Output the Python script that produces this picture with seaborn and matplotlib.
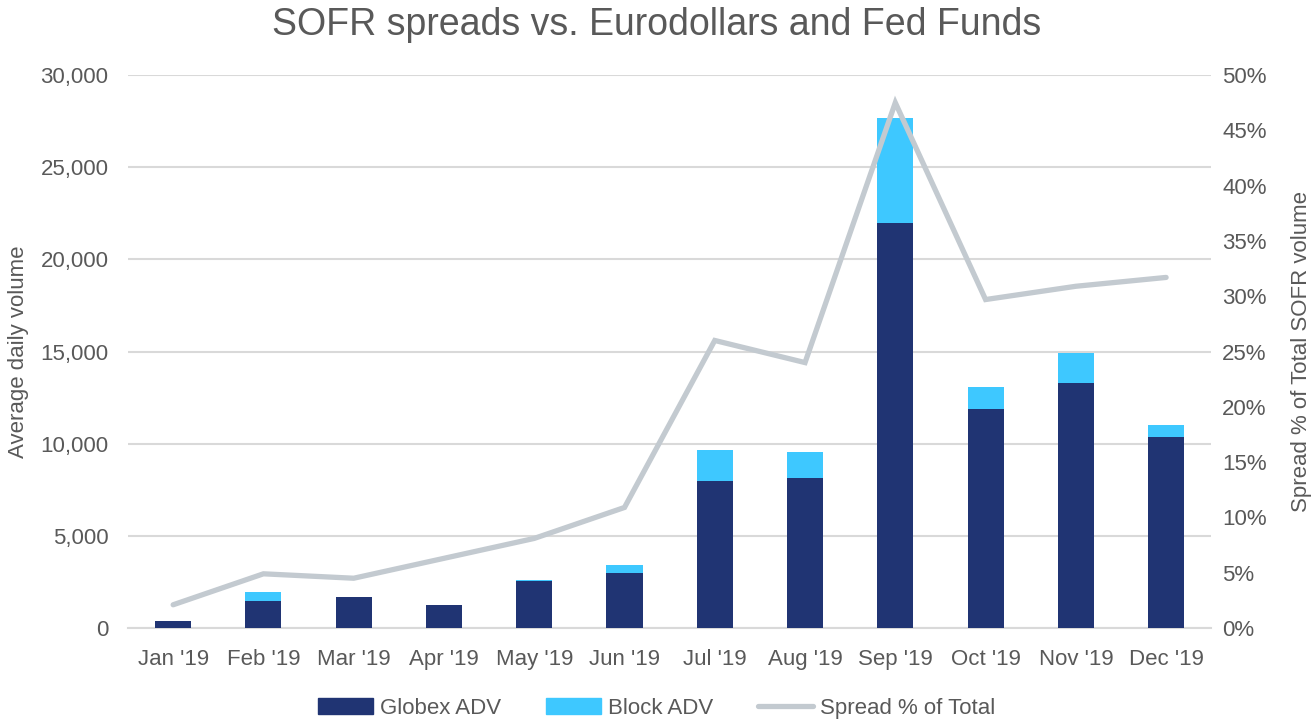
import numpy as np
import pandas as pd
import matplotlib
matplotlib.use("Agg")
import matplotlib.pyplot as plt
from matplotlib.ticker import FuncFormatter
from matplotlib.patches import Patch
from matplotlib.lines import Line2D
import seaborn as sns

# data
months = ["Jan '19", "Feb '19", "Mar '19", "Apr '19", "May '19", "Jun '19",
          "Jul '19", "Aug '19", "Sep '19", "Oct '19", "Nov '19", "Dec '19"]
globex_adv = [380, 1450, 1665, 1230, 2550, 3000, 7975, 8140, 21970, 11880, 13290, 10360]
block_adv = [0, 485, 0, 0, 54, 418, 1681, 1408, 5697, 1194, 1629, 653]
spread_pct = [2.1, 4.9, 4.5, 6.3, 8.1, 10.9, 26.0, 24.0, 47.5, 29.7, 30.9, 31.7]

df = pd.DataFrame({"month": months, "globex": globex_adv, "block": block_adv,
                   "spread": spread_pct})
df["total"] = df["globex"] + df["block"]
df["pos"] = np.arange(len(df))

navy = "#203473"
sky = "#3EC8FF"
line_grey = "#C3CAD0"
text_grey = "#595959"
grid_grey = "#D9D9D9"

sns.set_theme(style="white")
plt.rcParams["font.family"] = ["Liberation Sans", "DejaVu Sans"]

fig = plt.figure(figsize=(13.13, 7.23), dpi=100)
ax = fig.add_axes([0.0975, 0.1314, 0.825, 0.7648])

# stacked bars: total in light blue, Globex on top of it in navy
sns.barplot(data=df, x="month", y="total", color=sky, width=0.4,
            saturation=1, linewidth=0, ax=ax, zorder=2)
sns.barplot(data=df, x="month", y="globex", color=navy, width=0.4,
            saturation=1, linewidth=0, ax=ax, zorder=3)

ax.set_ylim(0, 30000)
ax.set_yticks(np.arange(0, 30001, 5000))
ax.yaxis.set_major_formatter(FuncFormatter(lambda v, p: f"{int(v):,}"))
ax.grid(axis="y", color=grid_grey, linewidth=1.5, zorder=0)
ax.set_axisbelow(True)
for s in ["top", "right", "left"]:
    ax.spines[s].set_visible(False)
ax.spines["bottom"].set_color(grid_grey)
ax.spines["bottom"].set_linewidth(1.5)
ax.set_xlabel("")
ax.set_ylabel("Average daily volume", fontsize=16, color=text_grey, labelpad=8)
ax.tick_params(axis="y", labelsize=16, colors=text_grey, length=0, pad=14)
ax.tick_params(axis="x", labelsize=16, colors=text_grey, length=0, pad=15)

ax2 = ax.twinx()
sns.lineplot(data=df, x="pos", y="spread", color=line_grey, linewidth=3.8,
             ax=ax2, solid_capstyle="round", solid_joinstyle="miter", zorder=4)
ax2.set_ylim(0, 50)
ax2.set_yticks(np.arange(0, 51, 5))
ax2.yaxis.set_major_formatter(FuncFormatter(lambda v, p: f"{int(v)}%"))
for s in ["top", "right", "left", "bottom"]:
    ax2.spines[s].set_visible(False)
ax2.set_xlabel("")
ax2.set_ylabel("Spread % of Total SOFR volume", fontsize=16, color=text_grey,
               labelpad=17)
ax2.tick_params(axis="both", labelsize=16, colors=text_grey, length=0, pad=8)
ax.set_xlim(-0.5, len(months) - 0.5)

fig.text(0.5, 0.966, "SOFR spreads vs. Eurodollars and Fed Funds", ha="center",
         va="center", fontsize=27, color=text_grey)

handles = [Patch(color=navy, label="Globex ADV"),
           Patch(color=sky, label="Block ADV"),
           Line2D([0], [0], color=line_grey, linewidth=3.8,
                  solid_capstyle="round", label="Spread % of Total")]
fig.legend(handles=handles, loc="lower center", bbox_to_anchor=(0.5, -0.022),
           ncol=3, frameon=False, fontsize=16, labelcolor=text_grey,
           handlelength=2.5, handleheight=0.75, handletextpad=0.3,
           columnspacing=2.0)

fig.savefig("out.png", dpi=100)
